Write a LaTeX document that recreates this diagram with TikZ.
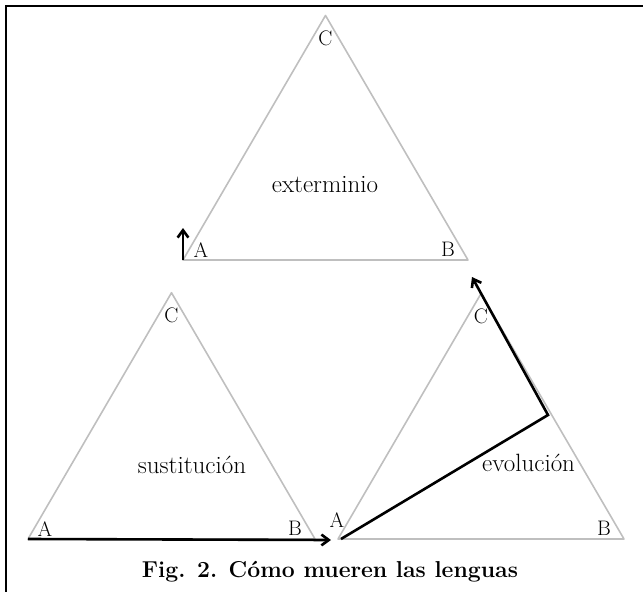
\documentclass[tikz,border=0pt]{standalone}
\usetikzlibrary{arrows.meta}

\begin{document}
\begin{tikzpicture}[x=1pt, y=-1pt, every node/.style={font=\fontsize{25}{28}\selectfont},
	side/.style={draw=black!25, line width=1.6pt, line join=round},
	mov/.style={draw=black, line width=2.6pt, -{Straight Barb[length=2.6mm, width=3.8mm]}},
	vlab/.style={inner sep=0pt, font=\fontsize{21}{24}\selectfont}]
	\useasboundingbox (0,0) rectangle (643,592);
	\draw[line width=1.8pt] (6,592) -- (6,6) -- (643,6);
	% the three triangles
	\foreach \t/\ax/\ay/\w in {ext/183/260/285, sus/28/539/287, evo/338/539/286} {
		\coordinate (\t A) at (\ax,\ay);
		\coordinate (\t B) at (\ax+\w,\ay);
		\coordinate (\t C) at (\ax+0.5*\w,\ay-0.858*\w);
		\path[side] (\t A) -- (\t B) -- (\t C) -- cycle;
		\node[vlab] at ([yshift=-23pt]\t C) {C};
		\node[vlab] at ([shift={(-20pt,11pt)}]\t B) {B};
	}
	\node[vlab] at ([shift={(18pt,10pt)}]extA) {A};
	\node[vlab] at ([shift={(17pt,10pt)}]susA) {A};
	\node[vlab] at ([shift={(-1pt,19pt)}]evoA) {A};
	\node (ext) at (325,185) {exterminio};
	\node (sus) at (192,465) {sustituci\'on};
	\node[anchor=west, inner sep=0pt] (evo) at (482,463) {evoluci\'on};
	% the moves
	\coordinate (evoM) at (548,415);
	\coordinate (evoE) at (472,277);
	\coordinate (susE) at (331,540);
	\coordinate (extE) at (183,228);
	\path[mov] (extA) -- (extE);
	\path[mov] (susA) -- (susE);
	\path[mov] ([xshift=3pt]evoA) -- (evoM) -- (evoE);
	\node[font=\bfseries\fontsize{23}{26}\selectfont] (cap) at (330,572) {Fig. 2. C\'omo mueren las lenguas};
\end{tikzpicture}
\end{document}
